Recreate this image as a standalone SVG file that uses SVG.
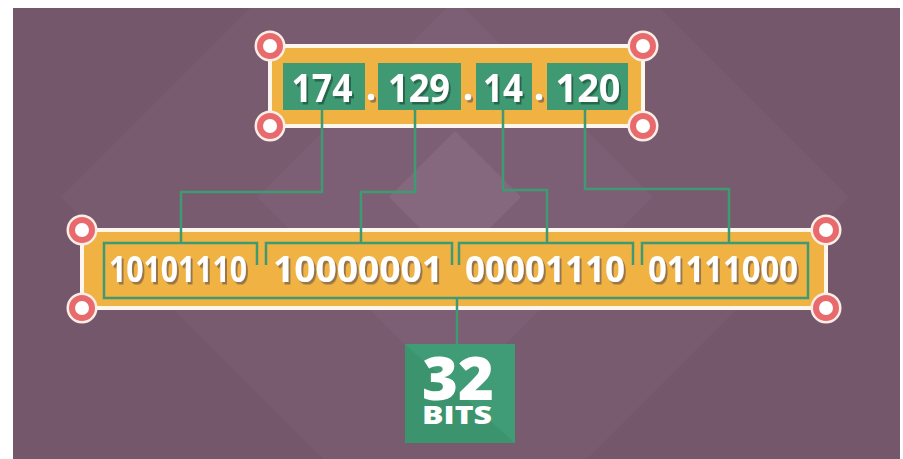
<svg xmlns="http://www.w3.org/2000/svg" width="903" height="459" viewBox="0 0 903 459">
  <defs>
    <filter id="shOrange" x="-10%" y="-20%" width="130%" height="150%">
      <feDropShadow dx="2" dy="2.5" stdDeviation="0.3" flood-color="#8f7048" flood-opacity="0.9"/>
    </filter>
    <filter id="shGreen" x="-10%" y="-20%" width="130%" height="150%">
      <feDropShadow dx="2" dy="2.5" stdDeviation="0.3" flood-color="#24604a" flood-opacity="0.9"/>
    </filter>
    <clipPath id="bgClip">
      <rect x="13" y="8" width="887" height="451"/>
    </clipPath>
    <g id="pin">
      <circle r="15.5" fill="#fbeee8"/>
      <circle r="13" fill="#e86a6c"/>
      <circle r="7" fill="#ffffff"/>
    </g>
  </defs>
  <style>
    .panel { fill: #f1b244; stroke: #fdf6ec; stroke-width: 4; }
    .gbox { fill: #3f9a74; }
    .wire { fill: none; stroke: #3f9a74; stroke-width: 2.5; }
    .num { font-family: "Open Sans", "Liberation Sans", sans-serif; font-weight: 700; fill: #ffffff; text-anchor: middle; }
    .dot { fill: #ffffff; }
  </style>

  <!-- background -->
  <rect x="0" y="0" width="903" height="459" fill="#ffffff"/>
  <g clip-path="url(#bgClip)">
    <rect x="13" y="8" width="887" height="451" fill="#74576b"/>
    <polygon points="455,-197 849,197 455,591 61,197" fill="#785b6f"/>
    <polygon points="455,-1 653,197 455,395 257,197" fill="#7c5f74"/>
    <polygon points="455,131 521,197 455,263 389,197" fill="#85687d"/>
  </g>

  <!-- top node -->
  <g id="ip-address">
    <rect class="panel" x="270" y="46" width="373" height="80"/>
    <rect class="gbox" x="283" y="63" width="82" height="47"/>
    <rect class="gbox" x="378" y="63" width="83" height="47"/>
    <rect class="gbox" x="476" y="63" width="56" height="47"/>
    <rect class="gbox" x="547" y="63" width="81" height="47"/>
    <g filter="url(#shGreen)">
      <text class="num" x="322" y="102" font-size="40" textLength="61" lengthAdjust="spacingAndGlyphs">174</text>
      <text class="num" x="419" y="102" font-size="40" textLength="62" lengthAdjust="spacingAndGlyphs">129</text>
      <text class="num" x="503" y="102" font-size="40" textLength="40" lengthAdjust="spacingAndGlyphs">14</text>
      <text class="num" x="588" y="102" font-size="40" textLength="65" lengthAdjust="spacingAndGlyphs">120</text>
    </g>
    <g filter="url(#shOrange)">
      <circle class="dot" cx="371" cy="97" r="3.2"/>
      <circle class="dot" cx="468" cy="97" r="3.2"/>
      <circle class="dot" cx="539" cy="97" r="3.2"/>
    </g>
    <use href="#pin" x="270" y="46"/>
    <use href="#pin" x="643" y="46"/>
    <use href="#pin" x="270" y="126"/>
    <use href="#pin" x="643" y="126"/>
  </g>

  <!-- binary node -->
  <g id="binary">
    <rect class="panel" x="82" y="230" width="744" height="78"/>
    <g filter="url(#shOrange)">
      <text class="num" x="178" y="282" font-size="35" textLength="138" lengthAdjust="spacingAndGlyphs">10101110</text>
      <text class="num" x="358" y="282" font-size="35" textLength="170" lengthAdjust="spacingAndGlyphs">10000001</text>
      <text class="num" x="545" y="282" font-size="35" textLength="160" lengthAdjust="spacingAndGlyphs">00001110</text>
      <text class="num" x="723" y="282" font-size="35" textLength="150" lengthAdjust="spacingAndGlyphs">01111000</text>
    </g>
    <use href="#pin" x="82" y="230"/>
    <use href="#pin" x="826" y="230"/>
    <use href="#pin" x="82" y="308"/>
    <use href="#pin" x="826" y="308"/>
  </g>

  <!-- connectors -->
  <g id="connectors">
    <path class="wire" d="M322,110 V192 H181 V243"/>
    <path class="wire" d="M415,110 V192 H361 V243"/>
    <path class="wire" d="M503,110 V190 H547 V243"/>
    <path class="wire" d="M585,110 V189 H729 V243"/>
    <path class="wire" d="M257,265 V243 H104 V298 H808 V243 H642 V265"/>
    <path class="wire" d="M266,265 V243 H452 V265"/>
    <path class="wire" d="M459,265 V243 H633 V265"/>
    <path class="wire" d="M457,298 V344"/>
  </g>

  <!-- 32 bits node -->
  <g id="bits">
    <rect x="405" y="344" width="110" height="99" fill="#409c76"/>
    <polygon points="405,344 515,443 405,443" fill="#3b946d"/>
    <text class="num"><tspan x="458" y="400" font-size="60" font-weight="800" textLength="72" lengthAdjust="spacingAndGlyphs">32</tspan><tspan x="457" y="424" font-size="24" font-weight="800" textLength="70" lengthAdjust="spacingAndGlyphs">BITS</tspan></text>
  </g>
</svg>
